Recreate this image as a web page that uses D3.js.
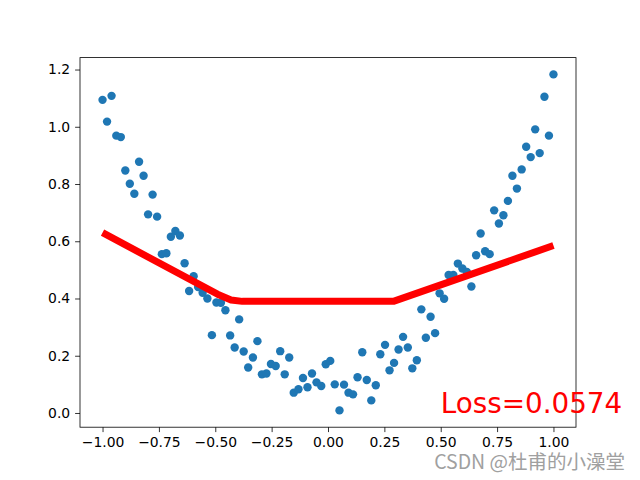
<!DOCTYPE html>
<html>
<head>
<meta charset="utf-8">
<script src="https://cdn.jsdelivr.net/npm/d3@7"></script>
<style>
html,body{margin:0;padding:0;background:#fff;}
svg{display:block;}
</style>
</head>
<body>
<svg id="chart" width="640" height="480"></svg>
<script>
const xs = [-1.000,-0.980,-0.960,-0.939,-0.919,-0.899,-0.879,-0.859,-0.838,-0.818,
-0.798,-0.778,-0.758,-0.737,-0.717,-0.697,-0.677,-0.657,-0.636,-0.616,
-0.596,-0.576,-0.556,-0.535,-0.515,-0.495,-0.475,-0.455,-0.434,-0.414,
-0.394,-0.374,-0.354,-0.333,-0.313,-0.293,-0.273,-0.253,-0.232,-0.212,
-0.192,-0.172,-0.152,-0.131,-0.111,-0.091,-0.071,-0.051,-0.030,-0.010,
0.010,0.030,0.051,0.071,0.091,0.111,0.131,0.152,0.172,0.192,
0.212,0.232,0.253,0.273,0.293,0.313,0.333,0.354,0.374,0.394,
0.414,0.434,0.455,0.475,0.495,0.515,0.535,0.556,0.576,0.596,
0.616,0.636,0.657,0.677,0.697,0.717,0.737,0.758,0.778,0.798,
0.818,0.838,0.859,0.879,0.899,0.919,0.939,0.960,0.980,1.000];
const ys = [1.094,1.018,1.108,0.969,0.964,0.847,0.801,0.766,0.878,0.829,
0.694,0.763,0.686,0.555,0.558,0.616,0.636,0.620,0.523,0.426,
0.478,0.440,0.420,0.400,0.272,0.386,0.385,0.359,0.271,0.229,
0.327,0.215,0.159,0.194,0.251,0.135,0.138,0.171,0.164,0.216,
0.135,0.194,0.071,0.083,0.122,0.090,0.138,0.107,0.094,0.170,
0.182,0.100,0.009,0.099,0.071,0.065,0.125,0.212,0.115,0.044,
0.097,0.205,0.238,0.149,0.175,0.222,0.266,0.229,0.156,0.184,
0.362,0.263,0.336,0.279,0.418,0.399,0.482,0.482,0.522,0.505,
0.493,0.442,0.551,0.627,0.565,0.555,0.708,0.662,0.691,0.741,
0.829,0.784,0.851,0.930,0.894,0.991,0.908,1.105,0.969,1.183];
const fitX = [-1.0,-0.49,-0.43,-0.38,0.29,1.0];
const fitY = [0.630,0.415,0.395,0.390,0.390,0.585];
const xTicks = [-1.0,-0.75,-0.5,-0.25,0.0,0.25,0.5,0.75,1.0];
const yTicks = [0.0,0.2,0.4,0.6,0.8,1.0,1.2];
const lossText = "Loss=0.0574";
const watermark = "CSDN @杜甫的小澡堂";

const svg = d3.select("#chart");
const L = 80, R = 576, T = 57.6, B = 427.2;
const x = d3.scaleLinear().domain([-1.1, 1.1]).range([L, R]);
const ymin = d3.min(ys), ymax = d3.max(ys), m = (ymax - ymin) * 0.05;
const y = d3.scaleLinear().domain([ymin - m, ymax + m]).range([B, T]);
const fmtMinus = s => s.replace("-", "\u2212");

// scatter
svg.append("g").selectAll("circle").data(xs.map((v,i)=>[v,ys[i]])).join("circle")
  .attr("cx", d => x(d[0])).attr("cy", d => y(d[1])).attr("r", 4.2)
  .attr("fill", "#1f77b4");

// fit line
const line = d3.line().x(d => x(d[0])).y(d => y(d[1]));
svg.append("path").datum(fitX.map((v,i)=>[v,fitY[i]]))
  .attr("d", line).attr("fill","none").attr("stroke","#ff0000")
  .attr("stroke-width", 7).attr("stroke-linejoin","round").attr("stroke-linecap","butt");

// axes
const xAxis = d3.axisBottom(x).tickValues(xTicks).tickSize(4.9).tickPadding(4.9)
  .tickFormat(d => fmtMinus(d3.format(".2f")(d)));
const yAxis = d3.axisLeft(y).tickValues(yTicks).tickSize(4.9).tickPadding(4.9)
  .tickFormat(d => fmtMinus(d3.format(".1f")(d)));
const gx = svg.append("g").attr("transform", `translate(0,${B})`).call(xAxis);
const gy = svg.append("g").attr("transform", `translate(${L},0)`).call(yAxis);
[gx, gy].forEach(g => {
  g.select(".domain").remove();
  g.selectAll(".tick line").attr("stroke","#000").attr("stroke-width",0.8);
  g.selectAll(".tick text").attr("fill","#000")
   .style("font-family","DejaVu Sans").style("font-size","13.9px");
});

// frame
svg.append("rect").attr("x", L).attr("y", T).attr("width", R-L).attr("height", B-T)
  .attr("fill","none").attr("stroke","#000").attr("stroke-width",0.8);

// loss text
svg.append("text").attr("x", x(0.5)).attr("y", y(0))
  .attr("fill","#ff0000").style("font-family","DejaVu Sans").style("font-size","27.8px")
  .text(lossText);

// watermark
svg.append("text").attr("x", 625).attr("y", 469).attr("text-anchor","end")
  .attr("fill","#a0a0a0").style("font-family","'Noto Sans CJK SC'").style("font-size","19.5px")
  .text(watermark);
</script>
</body>
</html>
